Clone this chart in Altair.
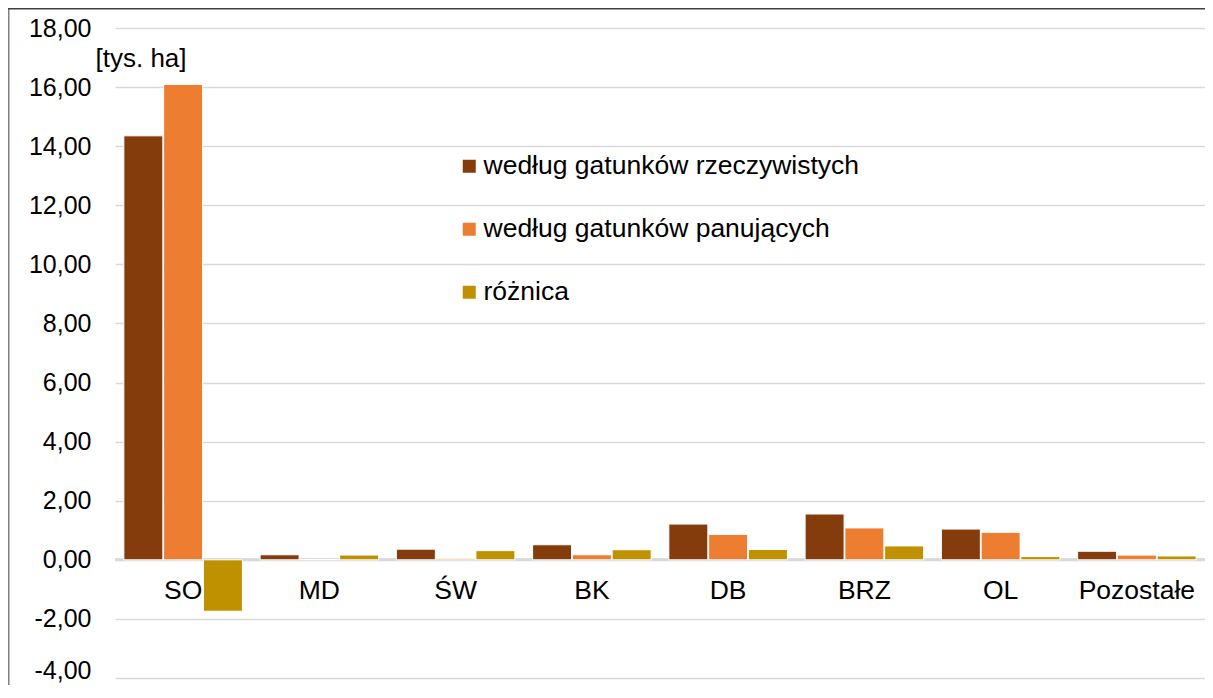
import altair as alt
import pandas as pd

categories = ["SO", "MD", "ŚW", "BK", "DB", "BRZ", "OL", "Pozostałe"]
series = ["według gatunków rzeczywistych", "według gatunków panujących", "różnica"]
rzeczywiste = [14.35, 0.17, 0.36, 0.51, 1.21, 1.55, 1.04, 0.29]
panujace = [16.09, 0.01, 0.05, 0.17, 0.86, 1.08, 0.93, 0.16]
roznica = [-1.74, 0.16, 0.31, 0.34, 0.35, 0.47, 0.11, 0.13]
colors = ["#843C0C", "#ED7D31", "#BF9000"]
y_ticks = [-4, -2, 0, 2, 4, 6, 8, 10, 12, 14, 16, 18]

rows = []
for s, vals in zip(series, [rzeczywiste, panujace, roznica]):
    for c, v in zip(categories, vals):
        rows.append({"kat": c, "seria": s, "wartosc": v})
df = pd.DataFrame(rows)
cat_df = pd.DataFrame({"kat": categories})

FONT = "Liberation Sans"
W, H = 1090, 650
PAD_L, PAD_T, PAD_R, PAD_B = 107, 20, 0, 7

x_enc = alt.X("kat:N", sort=categories, axis=None,
              scale=alt.Scale(paddingInner=0.13, paddingOuter=0.065))
y_scale = alt.Scale(domain=[-4, 18], nice=False)

bars = alt.Chart(df).mark_bar(stroke="white", strokeWidth=1).encode(
    x=x_enc,
    xOffset=alt.XOffset("seria:N", sort=series, scale=alt.Scale(paddingInner=0.02)),
    y=alt.Y("wartosc:Q", scale=y_scale,
            axis=alt.Axis(values=y_ticks, domain=False, ticks=False, grid=True,
                          gridColor="#d9d9d9", gridWidth=1.5,
                          labelExpr="(datum.value < 0 ? '-' : '') + replace(format(abs(datum.value), '.2f'), '.', ',')",
                          labelFontSize=25, labelFont=FONT, labelColor="#000000",
                          labelPadding=24,
                          labelOffset={"condition": {"test": "datum.value < -3", "value": -8}, "value": 0},
                          title="[tys. ha]", titleAngle=0, titleAlign="left",
                          titleBaseline="middle", titleX=-20, titleY=30,
                          titleFontSize=26, titleFont=FONT, titleFontWeight="normal",
                          titleColor="#000000")),
    color=alt.Color("seria:N", sort=series,
                    scale=alt.Scale(domain=series, range=colors),
                    legend=alt.Legend(title=None, orient="none", legendX=341, legendY=125,
                                      symbolType="square", symbolSize=169,
                                      symbolStrokeWidth=0, labelFontSize=26.5,
                                      labelFont=FONT, labelColor="#000000",
                                      labelOffset=1, rowPadding=36, padding=0,
                                      labelLimit=600)),
)

zero = alt.Chart(cat_df).mark_rule(color="#d9d9d9", strokeWidth=2).encode(
    y=alt.datum(0, scale=y_scale), x=alt.value(0), x2=alt.value(W)
)

labels = alt.Chart(cat_df).mark_text(fontSize=26.5, font=FONT, color="#000000",
                                     baseline="middle", dy=31).encode(
    x=alt.X("kat:N", sort=categories),
    y=alt.datum(0, scale=y_scale),
    text="kat:N",
)

frame_data = alt.Data(values=[{"a": 1}])
frame_left = alt.Chart(frame_data).mark_rule(color="#7f7f7f", strokeWidth=1.5).encode(
    x=alt.value(-PAD_L + 0.75), y=alt.value(-PAD_T), y2=alt.value(H + PAD_B)
)
frame_top = alt.Chart(frame_data).mark_rule(color="#404040", strokeWidth=1.5).encode(
    y=alt.value(-PAD_T + 0.75), x=alt.value(-PAD_L), x2=alt.value(W + PAD_R)
)

chart = alt.layer(frame_left, frame_top, zero, bars, labels).properties(
    width=W, height=H,
    autosize=alt.AutoSizeParams(type="none"),
    padding={"left": PAD_L, "top": PAD_T, "right": PAD_R, "bottom": PAD_B},
).configure_view(stroke=None)

chart.save("out.html", embed_options={"renderer": "svg", "actions": False})
